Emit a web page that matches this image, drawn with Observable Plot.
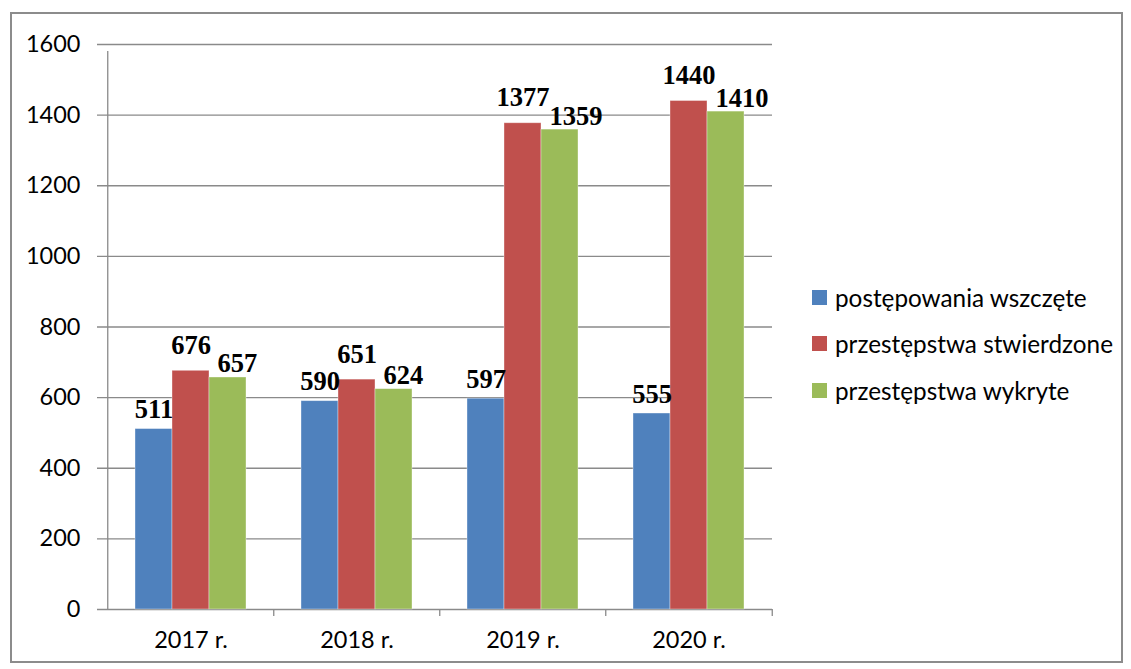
<!DOCTYPE html>
<html>
<head>
<meta charset="utf-8">
<script src="https://cdn.jsdelivr.net/npm/d3@7"></script>
<script src="https://cdn.jsdelivr.net/npm/@observablehq/plot@0.6"></script>
<style>
  html, body { margin: 0; padding: 0; background: #fff; }
  #wrap { position: relative; width: 1131px; height: 669px; overflow: hidden; }
  #border { position: absolute; left: 10px; top: 12px; width: 1109px; height: 647px; border: 2px solid #8c8c8c; }
  #chart { position: absolute; left: 0; top: 0; }
  #legend { position: absolute; left: 812px; top: 282px; font-family: Lato, "Open Sans", sans-serif; font-size: 24.3px; color: #000; }
  .item { display: flex; align-items: center; height: 30px; margin-bottom: 16.5px; white-space: nowrap; }
  .sw { width: 15px; height: 15px; margin-right: 8px; flex: none; }
</style>
</head>
<body>
<div id="wrap">
  <div id="border"></div>
  <div id="chart"></div>
  <div id="legend"></div>
</div>
<script>
const years = ["2017 r.", "2018 r.", "2019 r.", "2020 r."];
const seriesNames = ["postępowania wszczęte", "przestępstwa stwierdzone", "przestępstwa wykryte"];
const wszczete = [511, 590, 597, 555];
const stwierdzone = [676, 651, 1377, 1440];
const wykryte = [657, 624, 1359, 1410];
const yTicks = [0, 200, 400, 600, 800, 1000, 1200, 1400, 1600];
const colors = ["#4F81BD", "#C0504D", "#9BBB59"];

const seriesValues = [wszczete, stwierdzone, wykryte];
const rows = [];
seriesValues.forEach((vals, k) => vals.forEach((v, i) => rows.push({year: years[i], series: seriesNames[k], k, value: v})));

const width = 1131, height = 669;
const marginLeft = 106, marginRight = 359, marginTop = 44, marginBottom = 60;
const plotW = width - marginLeft - marginRight;
const step = plotW / years.length;
const band = step * (2 / 3);
const bw = band / 3;
const labelGap = [11, 17, 5];

const marks = [];
marks.push(Plot.ruleY(yTicks, {y: d => d, stroke: "#8a8a8a", strokeWidth: 1.3, insetLeft: -9}));
marks.push(Plot.ruleX([years[0]], {x: d => d, dx: -step / 2, y1: 0, y2: 1600, stroke: "#8a8a8a", strokeWidth: 1.3, insetBottom: -7}));
marks.push(Plot.ruleX(years.slice(1), {x: d => d, dx: -step / 2, y1: 0, y2: 0, stroke: "#8a8a8a", strokeWidth: 1.3, insetBottom: -7}));
marks.push(Plot.ruleX([years[years.length - 1]], {x: d => d, dx: step / 2, y1: 0, y2: 0, stroke: "#8a8a8a", strokeWidth: 1.3, insetBottom: -7}));

for (let k = 0; k < 3; k++) {
  const data = rows.filter(r => r.k === k);
  marks.push(Plot.barY(data, {
    x: "year", y: "value", fill: colors[k],
    insetLeft: k * bw, insetRight: (2 - k) * bw,
    stroke: "#ffffff", strokeOpacity: 0.45, strokeWidth: 0.8
  }));
}
for (let k = 0; k < 3; k++) {
  const data = rows.filter(r => r.k === k);
  const green = k === 2;
  marks.push(Plot.text(data, {
    x: "year", y: "value", text: d => String(d.value),
    dx: green ? bw / 2 + 8 : (k - 1) * bw,
    textAnchor: green ? "start" : "middle",
    dy: -labelGap[k], lineAnchor: "bottom",
    fontFamily: "Liberation Serif, serif", fontWeight: "bold", fontSize: 26.5, fill: "#000"
  }));
}

const chart = Plot.plot({
  width, height, marginLeft, marginRight, marginTop, marginBottom,
  style: {fontFamily: "Lato, 'Open Sans', sans-serif", fontSize: "23.5px", background: "transparent", color: "#000", overflow: "visible"},
  x: {domain: years, paddingInner: 1 / 3, paddingOuter: 1 / 6, tickSize: 0, tickPadding: 22, label: null},
  y: {domain: [0, 1600], ticks: yTicks, tickSize: 0, tickPadding: 26, label: null, tickFormat: d => String(d)},
  marks
});
document.getElementById("chart").appendChild(chart);

const legend = document.getElementById("legend");
seriesNames.forEach((name, k) => {
  const item = document.createElement("div");
  item.className = "item";
  const sw = document.createElement("span");
  sw.className = "sw";
  sw.style.background = colors[k];
  const t = document.createElement("span");
  t.textContent = name;
  item.appendChild(sw);
  item.appendChild(t);
  legend.appendChild(item);
});
</script>
</body>
</html>
